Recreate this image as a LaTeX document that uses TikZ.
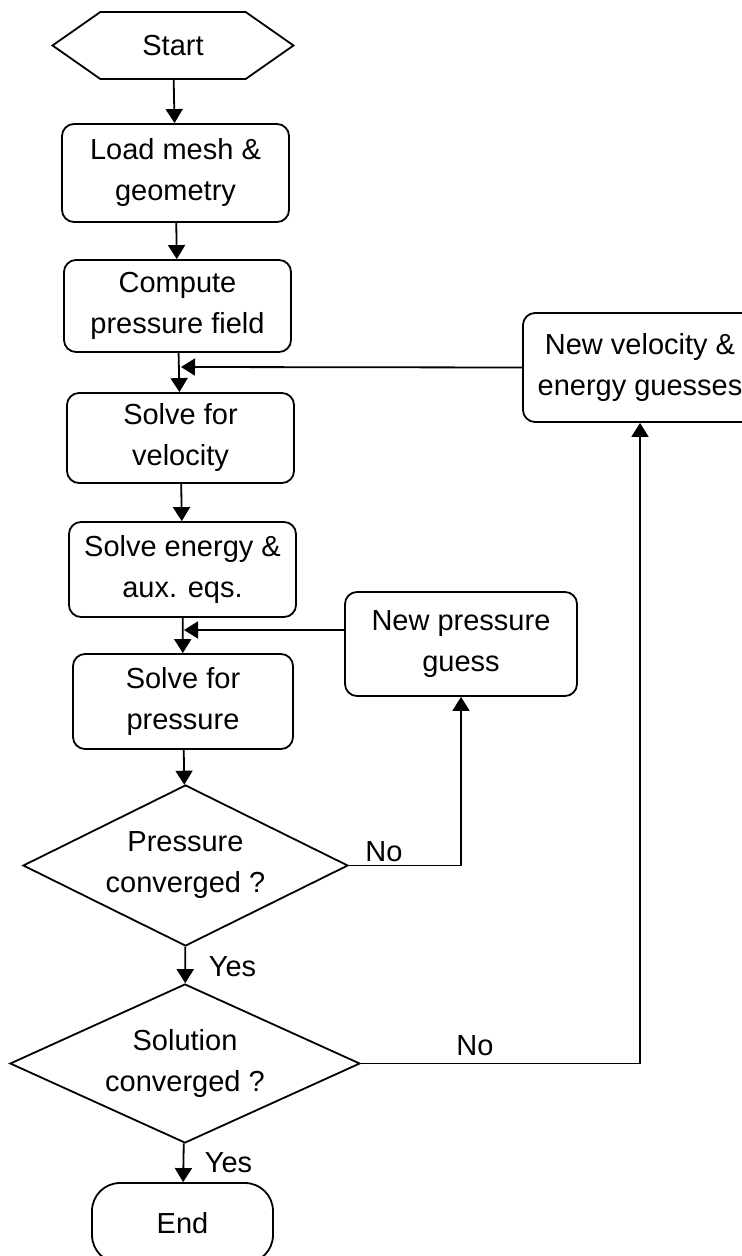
\documentclass[tikz,border=0pt]{standalone}
\usepackage{fontspec}
\setmainfont{Liberation Sans}
\usepackage{tikz}
\usetikzlibrary{shapes.geometric,shapes.symbols,arrows.meta}

\begin{document}
\begin{tikzpicture}[x=0.5pt,y=0.5pt,yscale=-1,
	every node/.style={font=\fontsize{14.5pt}{20.5pt}\selectfont},
	box/.style={draw,line width=0.9pt,rounded corners=6pt,align=center,inner sep=0pt},
	decide/.style={draw,line width=0.9pt,diamond,aspect=2,align=center,inner sep=0pt},
	arr/.style={line width=0.9pt,-{Triangle[length=7pt,width=8.5pt]}},
	lbl/.style={inner sep=0.75pt}]
	\useasboundingbox (0,0) rectangle (742,1256);
	
	%Shape: Hexagon [id:start]
	\node [draw,line width=0.9pt,signal,signal to=west and east,signal pointer angle=70,minimum width=120.5pt,minimum height=33.5pt,inner sep=0pt] (start) at (173,45.5) {Start};
	%Shape: Rounded Rect [id:load]
	\node [box,minimum width=113.5pt,minimum height=49pt] (load) at (175.5,173) {Load mesh \&\\geometry};
	%Shape: Rounded Rect [id:compute]
	\node [box,minimum width=113.5pt,minimum height=46pt] (compute) at (177.5,306) {Compute\\pressure field};
	%Shape: Rounded Rect [id:velocity]
	\node [box,minimum width=113.5pt,minimum height=45pt] (velocity) at (180.5,438) {Solve for\\velocity};
	%Shape: Rounded Rect [id:energy]
	\node [box,minimum width=113.5pt,minimum height=47.5pt] (energy) at (182.5,569.5) {Solve energy \&\\aux. eqs.};
	%Shape: Rounded Rect [id:psolve]
	\node [box,minimum width=110pt,minimum height=47.5pt] (psolve) at (183,701.5) {Solve for\\pressure};
	%Shape: Rounded Rect [id:newp]
	\node [box,minimum width=116pt,minimum height=52pt] (newp) at (461,644) {New pressure\\guess};
	%Shape: Rounded Rect [id:newv]
	\node [box,minimum width=117pt,minimum height=54.5pt] (newv) at (640,367.5) {New velocity \&\\energy guesses};
	%Shape: Diamond [id:pconv]
	\node [decide,minimum width=162.5pt,minimum height=80.5pt] (pconv) at (185.5,865.5) {Pressure\\converged ?};
	%Shape: Diamond [id:sconv]
	\node [decide,minimum width=175pt,minimum height=79.5pt] (sconv) at (185,1063.5) {Solution\\converged ?};
	%Shape: Terminal [id:stop]
	\node [box,rounded corners=14pt,minimum width=90.5pt,minimum height=40pt] (stop) at (182.5,1223) {End};
	
	%Straight Lines
	\draw [arr] (start) -- (load);
	\draw [arr] (load) -- (compute);
	\draw [arr] (compute) -- (velocity);
	\draw [arr] (velocity) -- (energy);
	\draw [arr] (energy) -- (psolve);
	\draw [arr] (psolve) -- (pconv);
	\draw [arr] (pconv) -- (sconv);
	\draw [arr] (sconv) -- (stop);
	%Feedback Lines
	\coordinate (vin) at (181,367);
	\coordinate (pin) at (184,630);
	\draw [arr] (newv.west) -- (vin);
	\draw [arr] (newp.west |- pin) -- (pin);
	\draw [arr] (pconv.east) -| (newp.south);
	\draw [arr] (sconv.east) -| (newv.south);
	
	% Text Node
	\node [lbl] (no1) at (384,852) {No};
	% Text Node
	\node [lbl,anchor=west] (yes1) at (207,967) {Yes};
	% Text Node
	\node [lbl,anchor=west] (yes2) at (203,1163) {Yes};
	% Text Node
	\node [lbl] (no2) at (475,1046) {No};
\end{tikzpicture}
\end{document}
